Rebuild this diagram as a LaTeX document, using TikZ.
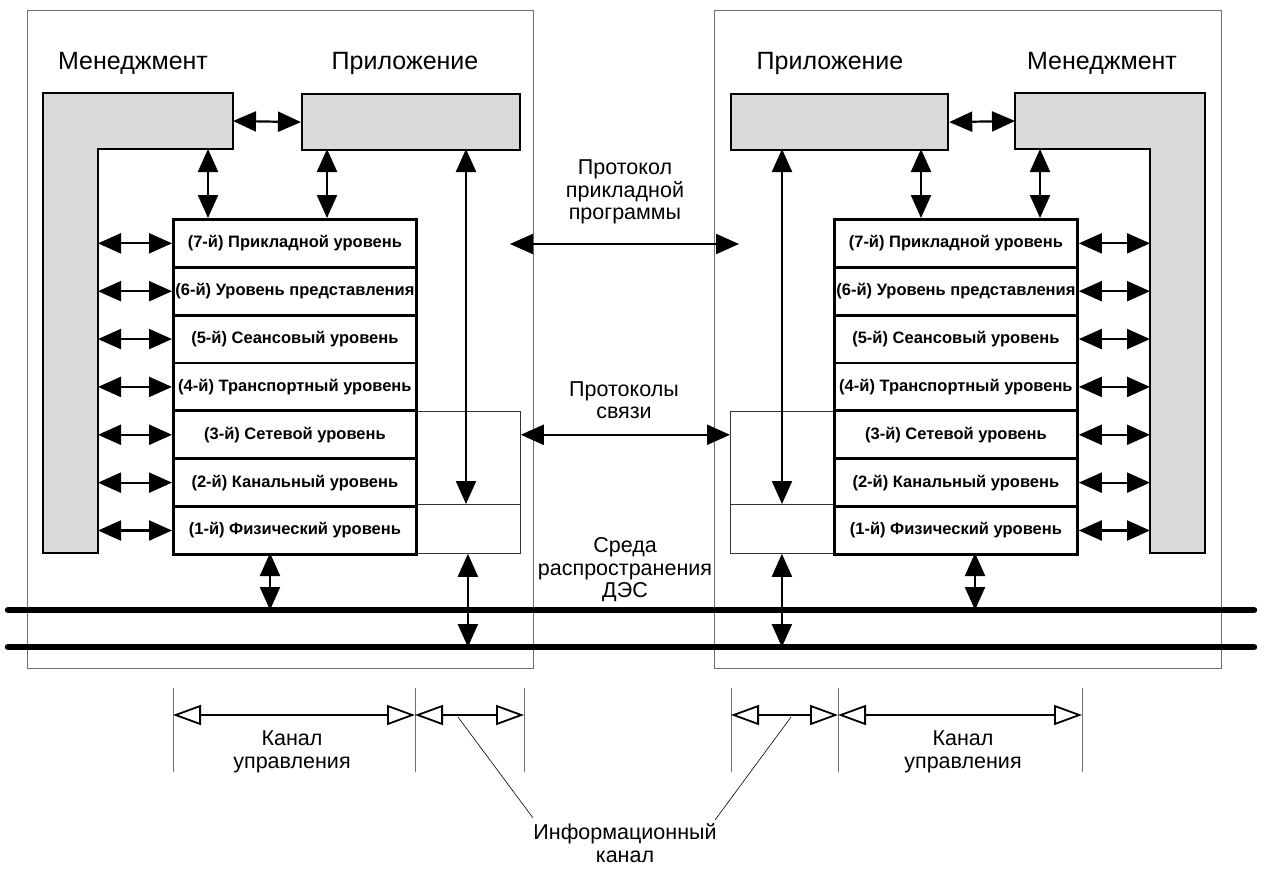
\documentclass[tikz,border=0pt]{standalone}
\usepackage{fontspec}
\setmainfont{Liberation Sans}
\usetikzlibrary{arrows.meta}
\definecolor{boxgray}{RGB}{217,217,217}
\definecolor{framegray}{RGB}{110,110,110}
\begin{document}
\begin{tikzpicture}[x=1pt,y=-1pt,
  big/.style={font=\fontsize{21.5}{22.5}\selectfont, align=center, inner sep=0pt},
  head/.style={font=\fontsize{25}{27}\selectfont, inner sep=0pt},
  layer/.style={draw, line width=2.8pt, fill=white, minimum width=243pt, minimum height=47.86pt, inner sep=0pt, anchor=north west, font=\bfseries\fontsize{16.5}{18}\selectfont},
  gbox/.style={draw, line width=2.2pt, fill=boxgray},
  dbl/.style={line width=2.2pt, {Triangle[length=23pt,width=20pt]}-{Triangle[length=23pt,width=20pt]}},
  dimarrow/.style={line width=1.8pt, {Triangle[open,length=28pt,width=20pt]}-{Triangle[open,length=28pt,width=20pt]}},
  frame/.style={draw=framegray, line width=1pt},
  thinbox/.style={draw=black!80, line width=0.8pt},
  tickline/.style={draw=framegray, line width=0.9pt},
  bus/.style={line width=6.5pt, line cap=round},
  leader/.style={line width=0.6pt}
]
\useasboundingbox (0,0) rectangle (1265,868);

% frames
\node[frame, minimum width=506pt, minimum height=658pt, anchor=north west, inner sep=0pt] (frameL) at (27,9.5) {};
\node[frame, minimum width=507pt, minimum height=658pt, anchor=north west, inner sep=0pt] (frameR) at (714,9.5) {};

% buses
\coordinate (bus1w) at (8,610); \coordinate (bus1e) at (1254,610);
\coordinate (bus2w) at (8,647); \coordinate (bus2e) at (1254,647);
\draw[bus] (bus1w) -- (bus1e);
\draw[bus] (bus2w) -- (bus2e);

% management L shapes
\draw[gbox] (43,93) -- (233,93) -- (233,149) -- (98,149) -- (98,553) -- (43,553) -- cycle;
\coordinate (mgL) at (233,121); \coordinate (mgLb) at (208,149); \coordinate (armL) at (98,300);
\draw[gbox] (1205,93) -- (1015,93) -- (1015,149) -- (1150,149) -- (1150,553) -- (1205,553) -- cycle;
\coordinate (mgR) at (1015,121); \coordinate (mgRb) at (1040,149); \coordinate (armR) at (1150,300);

% application boxes
\node[gbox, minimum width=218pt, minimum height=56pt, inner sep=0pt, anchor=north west] (appL) at (301,93) {};
\node[gbox, minimum width=217pt, minimum height=56pt, inner sep=0pt, anchor=north west] (appR) at (730,93) {};

% thin boxes
\node[thinbox, minimum width=105pt, minimum height=142pt, anchor=north west, inner sep=0pt] (tbL) at (415,411) {};
\coordinate (tbLm) at (415,504);
\draw[thinbox] (tbLm) -- (tbLm -| tbL.east);
\node[thinbox, minimum width=103pt, minimum height=142pt, anchor=north west, inner sep=0pt] (tbR) at (730,411) {};
\coordinate (tbRm) at (730,504);
\draw[thinbox] (tbRm) -- (tbRm -| tbR.east);

% layers
\foreach \t [count=\k from 0] in {{(7-й) Прикладной уровень},{(6-й) Уровень представления},{(5-й) Сеансовый уровень},{(4-й) Транспортный уровень},{(3-й) Сетевой уровень},{(2-й) Канальный уровень},{(1-й) Физический уровень}} {
  \pgfmathtruncatemacro\n{7-\k}
  \node[layer] (L\n) at (172,218+\k*47.86) {\t};
  \node[layer] (R\n) at (833,218+\k*47.86) {\t};
  \draw[dbl] (armL |- L\n.west) -- (L\n.west);
  \draw[dbl] (R\n.east) -- (armR |- R\n.east);
}

% upper arrows
\draw[dbl] (mgL) -- (appL.west);
\draw[dbl] (mgLb) -- (mgLb |- L7.north);
\coordinate (apL1) at (327,149); \draw[dbl] (apL1) -- (apL1 |- L7.north);
\coordinate (apL2) at (466,149); \draw[dbl] (apL2) -- (apL2 |- tbLm);
\draw[dbl] (appR.east) -- (mgR);
\draw[dbl] (mgRb) -- (mgRb |- R7.north);
\coordinate (apR1) at (921,149); \draw[dbl] (apR1) -- (apR1 |- R7.north);
\coordinate (apR2) at (782,149); \draw[dbl] (apR2) -- (apR2 |- tbRm);

% bottom arrows
\coordinate (phL) at (270,553); \draw[dbl] (phL) -- (phL |- bus1w);
\draw[dbl] (tbL.south) -- (tbL.south |- bus2w);
\coordinate (phR) at (975,553); \draw[dbl] (phR) -- (phR |- bus1w);
\draw[dbl] (tbR.south) -- (tbR.south |- bus2w);

% protocol arrows
\coordinate (pa1) at (510,244); \coordinate (pa2) at (739,244);
\draw[dbl] (pa1) -- (pa2);
\draw[dbl] (tbL.east |- L3.west) -- (tbR.west |- R3.west);

% texts
\node[head] (tmL) at (133,63) {Менеджмент};
\node[head] (taL) at (405,63) {Приложение};
\node[head] (taR) at (830,63) {Приложение};
\node[head] (tmR) at (1102,63) {Менеджмент};
\node[big] (proto) at (625,192) {Протокол\\прикладной\\программы};
\node[big] (comm) at (624,400) {Протоколы\\связи};
\node[big] (medium) at (625,570) {Среда\\распространения\\ДЭС};
\node[big] (kuL) at (292,752) {Канал\\управления};
\node[big] (kuR) at (963,752) {Канал\\управления};
\node[big] (info) at (625,843) {Информационный\\канал};

% dimension lines
\foreach \x [count=\i] in {173,415,524,731,838,1082} {
  \coordinate (dt\i) at (\x,688);
  \coordinate (db\i) at (\x,772);
  \coordinate (dm\i) at (\x,715);
  \draw[tickline] (dt\i) -- (db\i);
}
\draw[dimarrow] (dm1) -- (dm2);
\draw[dimarrow] (dm2) -- (dm3);
\draw[dimarrow] (dm4) -- (dm5);
\draw[dimarrow] (dm5) -- (dm6);

% leaders
\coordinate (lsL) at (458,717); \coordinate (leL) at (533,818);
\coordinate (lsR) at (791,717); \coordinate (leR) at (715,820);
\draw[leader] (lsL) -- (leL);
\draw[leader] (lsR) -- (leR);
\end{tikzpicture}
\end{document}
